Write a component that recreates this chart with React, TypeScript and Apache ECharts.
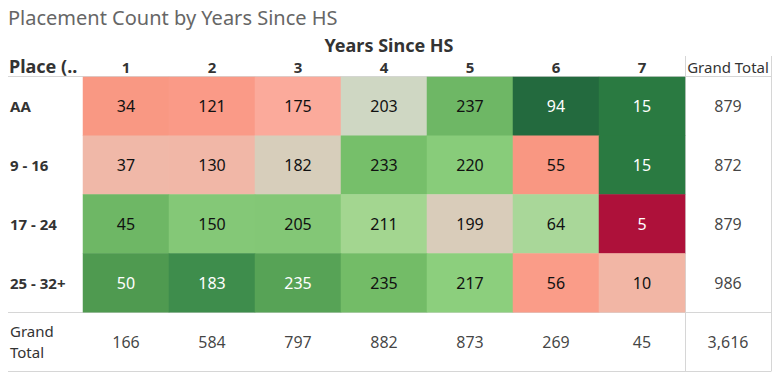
import React, { useEffect, useRef } from "react";
import * as echarts from "echarts";

const columns = ["1", "2", "3", "4", "5", "6", "7"];
const places = ["AA", "9 - 16", "17 - 24", "25 - 32+"];
const countsAA = [34, 121, 175, 203, 237, 94, 15];
const counts9to16 = [37, 130, 182, 233, 220, 55, 15];
const counts17to24 = [45, 150, 205, 211, 199, 64, 5];
const counts25to32 = [50, 183, 235, 235, 217, 56, 10];
const rows = [countsAA, counts9to16, counts17to24, counts25to32];

const TOTAL = "Grand Total";
const FONT = "'Noto Sans', sans-serif";

// diverging colour ramp (percent of column total -> colour)
const colorStops: [number, string][] = [
  [11.11, "#ae113a"],
  [20.45, "#f99782"],
  [21.96, "#fca99b"],
  [22.22, "#f2b6a5"],
  [22.29, "#f0b8a8"],
  [22.8, "#d9ccba"],
  [23.02, "#cfd7c3"],
  [23.79, "#a9d799"],
  [23.92, "#a3d690"],
  [24.86, "#8bcf7c"],
  [25.7, "#84c877"],
  [26.5, "#74be68"],
  [27.13, "#6eb765"],
  [29.49, "#57a356"],
  [30.12, "#4f9a50"],
  [31.34, "#3e8d4c"],
  [33.33, "#2a7a41"],
  [34.94, "#236a3e"],
];

function hex(c: string) {
  return [1, 3, 5].map((i) => parseInt(c.slice(i, i + 2), 16));
}
function colorAt(p: number) {
  if (p <= colorStops[0][0]) return colorStops[0][1];
  for (let i = 1; i < colorStops.length; i++) {
    const [p1, c1] = colorStops[i];
    const [p0, c0] = colorStops[i - 1];
    if (p <= p1) {
      const t = (p - p0) / (p1 - p0);
      const a = hex(c0);
      const b = hex(c1);
      const m = a.map((v, k) => Math.round(v + (b[k] - v) * t));
      return "rgb(" + m.join(",") + ")";
    }
  }
  return colorStops[colorStops.length - 1][1];
}

export default function App() {
  const ref = useRef<HTMLDivElement>(null);
  useEffect(() => {
    if (!ref.current) return;
    const chart = echarts.init(ref.current, undefined, { renderer: "svg" });

    const colTotals = columns.map((_, c) => rows.reduce((s, r) => s + r[c], 0));
    const rowTotals = rows.map((r) => r.reduce((s, v) => s + v, 0));
    const grand = rowTotals.reduce((s, v) => s + v, 0);

    const cells: any[] = [];
    rows.forEach((r, ri) => {
      r.forEach((v, ci) => {
        const pct = (v / colTotals[ci]) * 100;
        const dark = pct >= 29 || pct <= 15;
        cells.push({
          value: [ci, ri, v, pct],
          label: { color: dark ? "#ffffff" : "#111111" },
        });
      });
    });

    const totals: any[] = [];
    rowTotals.forEach((t, ri) => totals.push([columns.length, ri, t]));
    colTotals.forEach((t, ci) => totals.push([ci, places.length, t]));
    totals.push([columns.length, places.length, grand]);

    const pMin = colorStops[0][0];
    const pMax = colorStops[colorStops.length - 1][0];
    const N = 500;
    const ramp: string[] = [];
    for (let i = 0; i <= N; i++) ramp.push(colorAt(pMin + ((pMax - pMin) * i) / N));

    const lineStyle = { stroke: "#d6d6d6", lineWidth: 1 };

    chart.setOption({
      animation: false,
      textStyle: { fontFamily: FONT },
      title: {
        text: "Placement Count by Years Since HS",
        left: 3,
        top: 2,
        textStyle: { fontFamily: FONT, fontSize: 20, fontWeight: "normal", color: "#666666" },
      },
      grid: { left: 83, right: 7, top: 77, bottom: 5 },
      xAxis: {
        type: "category",
        position: "top",
        data: [...columns, TOTAL],
        axisLine: { show: false },
        axisTick: { show: false },
        splitLine: { show: false },
        axisLabel: {
          margin: 3,
          interval: 0,
          formatter: (v: string) => (v === TOTAL ? "{n|" + v + "}" : "{b|" + v + "}"),
          rich: {
            b: { fontFamily: FONT, fontSize: 15, fontWeight: "bold", color: "#333333" },
            n: { fontFamily: FONT, fontSize: 15, fontWeight: "normal", color: "#333333" },
          },
        },
      },
      yAxis: {
        type: "category",
        inverse: true,
        data: [...places, TOTAL],
        axisLine: { show: false },
        axisTick: { show: false },
        splitLine: { show: false },
        axisLabel: {
          margin: 73,
          align: "left",
          interval: 0,
          formatter: (v: string) =>
            v === TOTAL ? "{n|Grand}\n{n|Total}" : "{b|" + v + "}",
          rich: {
            b: { fontFamily: FONT, fontSize: 15, fontWeight: "bold", color: "#333333" },
            n: { fontFamily: FONT, fontSize: 15, fontWeight: "normal", color: "#333333", lineHeight: 21 },
          },
        },
      },
      visualMap: {
        show: false,
        seriesIndex: 0,
        dimension: 3,
        min: pMin,
        max: pMax,
        inRange: { color: ramp },
      },
      series: [
        {
          type: "heatmap",
          data: cells,
          itemStyle: { borderWidth: 0 },
          label: {
            show: true,
            fontFamily: FONT,
            fontSize: 16,
            formatter: (p: any) => String(p.value[2]),
          },
          emphasis: { disabled: true },
        },
        {
          type: "scatter",
          data: totals,
          symbolSize: 0,
          label: {
            show: true,
            position: "inside",
            fontFamily: FONT,
            fontSize: 16,
            color: "#111111",
            formatter: (p: any) => p.value[2].toLocaleString("en-US"),
          },
          emphasis: { disabled: true },
        },
      ],
      graphic: [
        {
          type: "text",
          left: "center",
          top: 36,
          style: {
            text: "Years Since HS",
            fontFamily: FONT,
            fontSize: 18,
            fontWeight: "bold",
            fill: "#333333",
          },
        },
        {
          type: "text",
          left: 9,
          top: 57,
          style: {
            text: "Place (..",
            fontFamily: FONT,
            fontSize: 18,
            fontWeight: "bold",
            fill: "#333333",
          },
        },
        { type: "line", shape: { x1: 8, y1: 76.5, x2: 771, y2: 76.5 }, style: lineStyle },
        { type: "line", shape: { x1: 8, y1: 312.5, x2: 771, y2: 312.5 }, style: lineStyle },
        { type: "line", shape: { x1: 8, y1: 371.5, x2: 771, y2: 371.5 }, style: lineStyle },
        { type: "line", shape: { x1: 685.5, y1: 56, x2: 685.5, y2: 371.5 }, style: lineStyle },
        { type: "line", shape: { x1: 771.5, y1: 56, x2: 771.5, y2: 371.5 }, style: lineStyle },
      ],
    });
    return () => chart.dispose();
  }, []);
  return (
    <div
      ref={ref}
      style={{ position: "fixed", left: 0, top: 0, width: 778, height: 376, background: "#ffffff" }}
    />
  );
}
